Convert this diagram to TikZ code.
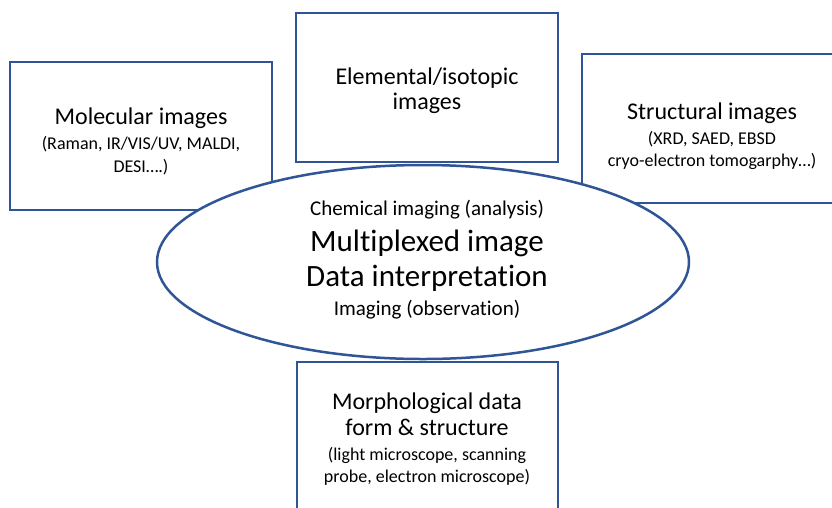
\documentclass[tikz,border=0pt]{standalone}
\usepackage{fontspec}
\setmainfont{Carlito}[Ligatures={NoCommon}]
\usetikzlibrary{shapes.geometric}
\definecolor{boxblue}{RGB}{47,85,151}
\begin{document}
\begin{tikzpicture}[x=1pt,y=-1pt,
  box/.style={draw=boxblue,line width=2.5pt,rectangle,anchor=north west,inner sep=0pt,outer sep=0pt},
  ttl/.style={anchor=base,inner sep=0pt,font=\fontsize{24}{28}\selectfont},
  sub/.style={anchor=base,inner sep=0pt,font=\fontsize{18}{22}\selectfont},
  emid/.style={anchor=base,inner sep=0pt,font=\fontsize{21}{25}\selectfont},
  ebig/.style={anchor=base,inner sep=0pt,font=\fontsize{31}{37}\selectfont}]
\clip (0,0) rectangle (832,507);
\fill[white] (0,0) rectangle (832,507);
% boxes
\node[box,minimum width=262pt,minimum height=148pt] (mol) at (10,62) {};
\node[box,minimum width=262pt,minimum height=149pt] (ele) at (296,13) {};
\node[box,minimum width=270pt,minimum height=149pt] (str) at (582,54) {};
\node[box,minimum width=261pt,minimum height=170pt] (mor) at (297,362) {};
% central ellipse
\node[draw=boxblue,fill=white,line width=2.5pt,ellipse,minimum width=532pt,minimum height=194pt,inner sep=0pt] (core) at (423,262) {};
% molecular
\node[ttl] (molT) at (141,124) {Molecular images};
\node[sub] (molS1) at (141,149) {(Raman, IR/VIS/UV, MALDI,};
\node[sub] (molS2) at (141,172) {DESI….)};
% elemental
\node[ttl] (eleT1) at (427,84) {Elemental/isotopic};
\node[ttl] (eleT2) at (427,109) {images};
% structural
\node[ttl] (strT) at (712,119) {Structural images};
\node[sub] (strS1) at (712,144) {(XRD, SAED, EBSD};
\node[sub] (strS2) at (712,166) {cryo-electron tomogarphy…)};
% morphological
\node[ttl] (morT1) at (427,409) {Morphological data};
\node[ttl] (morT2) at (427,435) {form \& structure};
\node[sub] (morS1) at (427,460) {(light microscope, scanning};
\node[sub] (morS2) at (427,482) {probe, electron microscope)};
% ellipse text
\node[emid] (c1) at (427,215) {Chemical imaging (analysis)};
\node[ebig] (c2) at (427,251) {Multiplexed image};
\node[ebig] (c3) at (427,286) {Data interpretation};
\node[emid] (c4) at (427,315) {Imaging (observation)};
\end{tikzpicture}
\end{document}
